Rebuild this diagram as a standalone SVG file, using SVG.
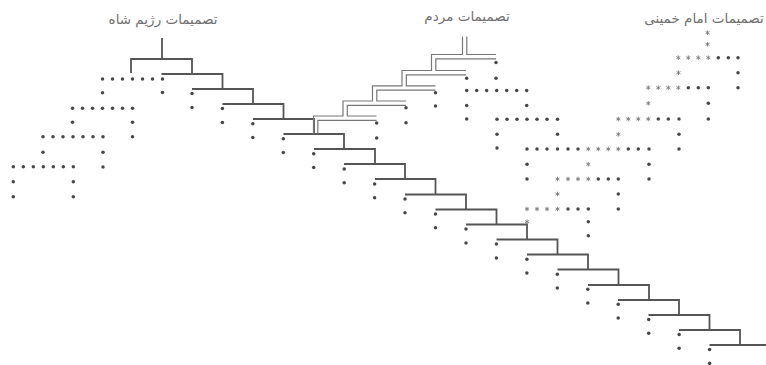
<svg xmlns="http://www.w3.org/2000/svg" xmlns:xlink="http://www.w3.org/1999/xlink" width="766" height="365" viewBox="0 0 766 365">
<defs>
<style>
.t{font-family:"DejaVu Sans","Noto Sans",sans-serif;font-size:13.5px;fill:#707070;text-anchor:middle;direction:rtl}
.solid{fill:none;stroke:#555;stroke-width:1.8}
.dbl{fill:none;stroke:#777;stroke-width:1.2}
</style>
<circle id="d" r="1.75" fill="#474747"/>
<path id="s" d="M0,-2.3V2.3M-2,-1.15L2,1.15M-2,1.15L2,-1.15" stroke="#7a7a7a" stroke-width="0.9" fill="none"/>
</defs>
<rect width="766" height="365" fill="#fff"/>

<g id="title-shah"><text class="t" x="163" y="24">تصمیمات رژیم شاه</text></g>
<g id="title-people"><text class="t" x="467" y="21">تصمیمات مردم</text></g>
<g id="title-khomeini"><text class="t" x="704" y="23">تصمیمات امام خمینی</text></g>

<g id="connectors">
<path class="solid" d="M162,38V59M131,73V59H192V74M161.5,74H222.5V89M192,89H253V104M222.5,104H283.5V119M253,119H314V134M283.5,134H344V149M314,149H375V164M344,164H405V179M375,179H435.5V194.5M405,194.5H466V209.5M435.5,209.5H496.5V224.5M466,224.5H527V239.5M496.5,239.5H557.5V254.5M527,254.5H588V269.5M557.5,269.5H618.5V285M588,285H649V300M618,300H679V315M648.5,315H709.5V330M679,330H740V345M709.5,345H770"/>
<path class="dbl" d="M462.5,36.5V54.5H431.5V70.5H402V85.8H372.5V101H343V116H313.5V134M466.8,36.5V54.5H496M496,58.8H435.8V70.5H466M466,74.8H406.3V85.8H435.5M435.5,90.1H376.8V101H406M406,105.3H347.3V116H376.5M376.5,120.3H317.8V134"/>
</g>

<g id="shah-dots">
<use href="#d" x="102.5" y="79"/><use href="#d" x="112.5" y="79"/><use href="#d" x="122.5" y="79"/><use href="#d" x="132.5" y="79"/><use href="#d" x="142.5" y="79"/><use href="#d" x="152.5" y="79"/><use href="#d" x="162.5" y="79"/>
<use href="#d" x="102.5" y="92.7"/><use href="#d" x="162.5" y="92.5"/>
<use href="#d" x="72.5" y="108.3"/><use href="#d" x="82.5" y="108.3"/><use href="#d" x="92.5" y="108.3"/><use href="#d" x="102.5" y="108.3"/><use href="#d" x="112.5" y="108.3"/><use href="#d" x="122.5" y="108.3"/><use href="#d" x="132.5" y="108.3"/>
<use href="#d" x="72.5" y="122.3"/><use href="#d" x="132.5" y="122.3"/><use href="#d" x="132.5" y="136.7"/>
<use href="#d" x="43" y="136.7"/><use href="#d" x="53" y="136.7"/><use href="#d" x="63" y="136.7"/><use href="#d" x="73" y="136.7"/><use href="#d" x="83" y="136.7"/><use href="#d" x="93" y="136.7"/><use href="#d" x="103" y="136.7"/>
<use href="#d" x="43" y="152.3"/><use href="#d" x="103" y="152.3"/><use href="#d" x="103" y="167"/>
<use href="#d" x="13.3" y="166.7"/><use href="#d" x="23.3" y="166.7"/><use href="#d" x="33.3" y="166.7"/><use href="#d" x="43.3" y="166.7"/><use href="#d" x="53.3" y="166.7"/><use href="#d" x="63.3" y="166.7"/><use href="#d" x="73.3" y="166.7"/>
<use href="#d" x="13.3" y="181.7"/><use href="#d" x="13.3" y="196.7"/><use href="#d" x="73.3" y="181.7"/><use href="#d" x="73.3" y="196.7"/>
<use href="#d" x="192" y="93.6"/><use href="#d" x="192" y="107.4"/>
<use href="#d" x="222.4" y="108.6"/><use href="#d" x="222.4" y="122.4"/>
<use href="#d" x="252.8" y="123.7"/><use href="#d" x="252.8" y="137.5"/>
<use href="#d" x="283.3" y="138.7"/><use href="#d" x="283.3" y="152.5"/>
<use href="#d" x="313.7" y="153.8"/><use href="#d" x="313.7" y="167.6"/>
<use href="#d" x="344.2" y="168.9"/><use href="#d" x="344.2" y="182.7"/>
<use href="#d" x="374.6" y="183.9"/><use href="#d" x="374.6" y="197.7"/>
<use href="#d" x="405" y="199"/><use href="#d" x="405" y="212.8"/>
<use href="#d" x="435.5" y="214"/><use href="#d" x="435.5" y="227.8"/>
<use href="#d" x="466" y="229"/><use href="#d" x="466" y="242.9"/>
<use href="#d" x="496.4" y="244.1"/><use href="#d" x="496.4" y="257.9"/>
<use href="#d" x="526.9" y="259.2"/><use href="#d" x="526.9" y="273"/>
<use href="#d" x="557.3" y="274.2"/><use href="#d" x="557.3" y="288"/>
<use href="#d" x="587.8" y="289.3"/><use href="#d" x="587.8" y="303"/>
<use href="#d" x="618.2" y="304.3"/><use href="#d" x="618.2" y="318.1"/>
<use href="#d" x="648.7" y="319.4"/><use href="#d" x="648.7" y="333.2"/>
<use href="#d" x="679.1" y="334.4"/><use href="#d" x="679.1" y="348.2"/>
<use href="#d" x="709.6" y="349.5"/><use href="#d" x="709.6" y="363.3"/>
</g>

<g id="people-dots">
<use href="#d" x="496" y="62.5"/><use href="#d" x="496" y="78.3"/><use href="#d" x="466.7" y="78.3"/>
<use href="#d" x="466.7" y="90.5"/><use href="#d" x="476.7" y="90.5"/><use href="#d" x="486.7" y="90.5"/><use href="#d" x="496.7" y="90.5"/><use href="#d" x="506.7" y="90.5"/><use href="#d" x="516.7" y="90.5"/><use href="#d" x="526.7" y="90.5"/>
<use href="#d" x="466.7" y="105.5"/><use href="#d" x="466.7" y="119"/><use href="#d" x="526.7" y="105.5"/>
<use href="#d" x="497" y="119.3"/><use href="#d" x="507" y="119.3"/><use href="#d" x="517" y="119.3"/><use href="#d" x="527" y="119.3"/><use href="#d" x="537" y="119.3"/><use href="#d" x="547" y="119.3"/><use href="#d" x="557.5" y="119.3"/>
<use href="#d" x="497" y="134.3"/><use href="#d" x="497" y="148"/><use href="#d" x="557.5" y="134.3"/>
<use href="#d" x="527" y="149"/><use href="#d" x="537" y="149"/><use href="#d" x="547" y="149"/><use href="#d" x="557.5" y="149"/><use href="#d" x="568" y="149"/><use href="#d" x="578" y="149"/>
<use href="#d" x="527" y="164.3"/><use href="#d" x="527" y="179"/>
<use href="#d" x="435.5" y="92.7"/><use href="#d" x="435.5" y="106"/>
<use href="#d" x="406" y="107.7"/><use href="#d" x="406" y="122.7"/>
<use href="#d" x="376.7" y="123"/><use href="#d" x="376.7" y="138"/>
</g>

<g id="khomeini-marks">
<use href="#s" x="707.5" y="32.7"/><use href="#s" x="707.5" y="44.3"/>
<use href="#s" x="678.3" y="57.7"/><use href="#s" x="688.3" y="57.7"/><use href="#s" x="698.3" y="57.7"/><use href="#s" x="708.3" y="57.7"/><use href="#d" x="718.3" y="57.7"/><use href="#d" x="728.3" y="57.7"/><use href="#d" x="738" y="57.7"/>
<use href="#s" x="678.5" y="72.7"/><use href="#d" x="738" y="72.7"/><use href="#d" x="738" y="87.7"/>
<use href="#s" x="648.3" y="87.7"/><use href="#s" x="658.3" y="87.7"/><use href="#s" x="668.3" y="87.7"/><use href="#s" x="678.3" y="87.7"/><use href="#d" x="688.3" y="87.7"/><use href="#d" x="698.3" y="87.7"/><use href="#d" x="708.3" y="87.7"/>
<use href="#s" x="648.3" y="103.3"/><use href="#d" x="708.3" y="103.3"/><use href="#d" x="708.3" y="119"/>
<use href="#s" x="618.3" y="119"/><use href="#s" x="628.3" y="119"/><use href="#s" x="638.3" y="119"/><use href="#s" x="648.3" y="119"/><use href="#d" x="658.3" y="119"/><use href="#d" x="668.3" y="119"/><use href="#d" x="679" y="119"/>
<use href="#s" x="618.3" y="134.3"/><use href="#d" x="679" y="134.3"/><use href="#d" x="679" y="149"/>
<use href="#s" x="588.3" y="149"/><use href="#s" x="598.3" y="149"/><use href="#s" x="608.3" y="149"/><use href="#s" x="618.3" y="149"/><use href="#d" x="628.3" y="149"/><use href="#d" x="638.3" y="149"/><use href="#d" x="649" y="149"/>
<use href="#s" x="588.3" y="164.3"/><use href="#d" x="649" y="164.3"/><use href="#d" x="649" y="179"/>
<use href="#s" x="557.5" y="179"/><use href="#s" x="568" y="179"/><use href="#s" x="578" y="179"/><use href="#s" x="588.3" y="179"/><use href="#d" x="598.3" y="179"/><use href="#d" x="608.3" y="179"/><use href="#d" x="618.3" y="179"/>
<use href="#s" x="557.5" y="194"/><use href="#d" x="618.3" y="194"/><use href="#d" x="618.3" y="209"/>
<use href="#s" x="527" y="209"/><use href="#s" x="537" y="209"/><use href="#s" x="547" y="209"/><use href="#s" x="557.5" y="209"/><use href="#d" x="568" y="209"/><use href="#d" x="578" y="209"/><use href="#d" x="588.3" y="209"/>
<use href="#s" x="527" y="221.7"/><use href="#d" x="588.3" y="221.7"/><use href="#d" x="588.3" y="235.7"/>
</g>
</svg>
